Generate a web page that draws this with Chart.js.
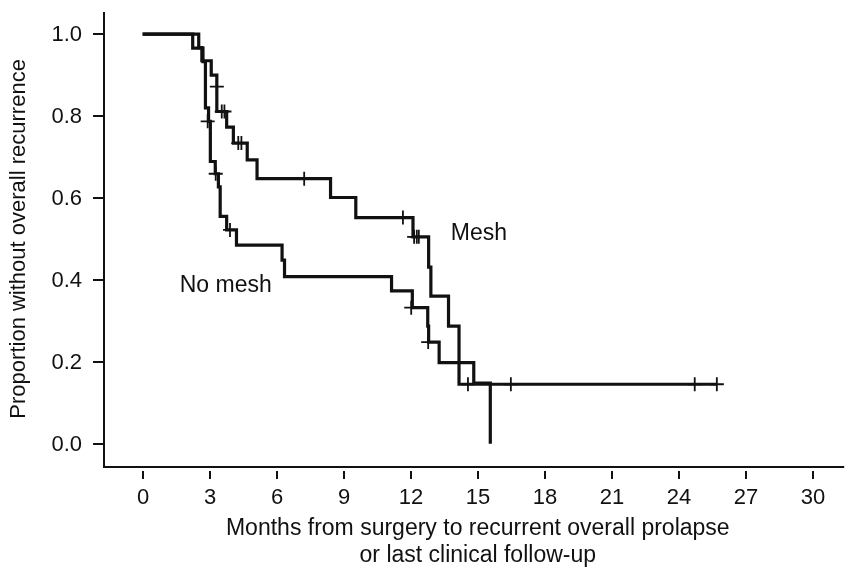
<!DOCTYPE html>
<html>
<head>
<meta charset="utf-8">
<script src="https://cdn.jsdelivr.net/npm/chart.js"></script>
<style>
  html, body { margin: 0; padding: 0; background: #fff; }
  canvas { display: block; }
</style>
</head>
<body>
<canvas id="kmChart" width="853" height="570"></canvas>
<script>
// Kaplan-Meier steps: [months, proportion] (value drops to S at t)
const meshSteps = [
  [0, 1.0], [2.51, 0.967], [2.65, 0.935], [3.07, 0.90], [3.32, 0.811],
  [3.76, 0.773], [4.06, 0.734], [4.68, 0.693], [5.12, 0.647], [8.41, 0.601],
  [9.54, 0.552], [12.1, 0.505], [12.8, 0.431], [12.9, 0.36], [13.69, 0.287],
  [14.16, 0.145], [25.7, 0.145]
];
const noMeshSteps = [
  [0, 1.0], [2.24, 0.966], [2.7, 0.933], [2.81, 0.82], [2.95, 0.787],
  [3.03, 0.689], [3.25, 0.659], [3.39, 0.627], [3.47, 0.555], [3.76, 0.522],
  [4.2, 0.485], [6.24, 0.448], [6.35, 0.408], [11.14, 0.373], [12.07, 0.332],
  [12.76, 0.287], [12.8, 0.248], [13.27, 0.198], [14.82, 0.148], [15.56, 0.0]
];

// censored observations (+ marks)
const meshCensored = [
  [3.32, 0.872], [3.54, 0.811], [3.66, 0.811], [4.28, 0.734], [4.42, 0.734],
  [7.23, 0.647], [11.65, 0.552], [12.15, 0.505], [12.27, 0.505], [12.36, 0.505],
  [14.56, 0.145], [16.48, 0.145], [24.71, 0.145], [25.7, 0.145]
];
const noMeshCensored = [
  [2.91, 0.787], [3.27, 0.659], [3.91, 0.522], [12.02, 0.332], [12.78, 0.248]
];

const xTicks = [0, 3, 6, 9, 12, 15, 18, 21, 24, 27, 30];
const xTickLabels = ["0", "3", "6", "9", "12", "15", "18", "21", "24", "27", "30"];
const yTicks = [0, 0.2, 0.4, 0.6, 0.8, 1.0];
const yTickLabels = ["0.0", "0.2", "0.4", "0.6", "0.8", "1.0"];

const seriesLabels = [
  { text: "Mesh", x: 15.05, y: 0.512 },
  { text: "No mesh", x: 3.72, y: 0.385 }
];

const xTitle = ["Months from surgery to recurrent overall prolapse", "or last clinical follow-up"];
const yTitle = "Proportion without overall recurrence";

const toPts = (arr) => arr.map(([x, y]) => ({ x, y }));
const INK = "#111";
const FONT = '"Liberation Sans", Arial, sans-serif';

// axes, ticks, titles drawn from the chart's scales
const axesPlugin = {
  id: "kmAxes",
  afterDraw: (chart) => {
    const { ctx, chartArea, scales: { x, y } } = chart;
    ctx.save();
    ctx.strokeStyle = INK;
    ctx.fillStyle = INK;
    ctx.lineWidth = 2;

    // axis lines
    ctx.beginPath();
    ctx.moveTo(chartArea.left, chartArea.top);
    ctx.lineTo(chartArea.left, chartArea.bottom);
    ctx.lineTo(chartArea.right, chartArea.bottom);
    ctx.stroke();

    // y ticks
    ctx.font = "22px " + FONT;
    ctx.textAlign = "right";
    ctx.textBaseline = "middle";
    yTicks.forEach((v, i) => {
      const py = Math.round(y.getPixelForValue(v));
      ctx.beginPath();
      ctx.moveTo(chartArea.left - 11, py);
      ctx.lineTo(chartArea.left, py);
      ctx.stroke();
      ctx.fillText(yTickLabels[i], chartArea.left - 22, py + 1);
    });

    // x ticks (detached from the axis line)
    ctx.textAlign = "center";
    xTicks.forEach((v, i) => {
      const px = Math.round(x.getPixelForValue(v));
      ctx.beginPath();
      ctx.moveTo(px, chartArea.bottom + 4);
      ctx.lineTo(px, chartArea.bottom + 12);
      ctx.stroke();
      ctx.fillText(xTickLabels[i], px, chartArea.bottom + 31);
    });

    // x title
    const midX = (x.getPixelForValue(0) + x.getPixelForValue(30)) / 2;
    ctx.font = "23px " + FONT;
    ctx.fillText(xTitle[0], midX, chartArea.bottom + 62);
    ctx.fillText(xTitle[1], midX, chartArea.bottom + 89);

    // y title
    ctx.save();
    ctx.translate(19, (y.getPixelForValue(0) + y.getPixelForValue(1)) / 2);
    ctx.rotate(-Math.PI / 2);
    ctx.font = "22px " + FONT;
    ctx.fillText(yTitle, 0, 0);
    ctx.restore();

    // series labels
    ctx.font = "23px " + FONT;
    seriesLabels.forEach((l) => {
      ctx.fillText(l.text, x.getPixelForValue(l.x), y.getPixelForValue(l.y));
    });
    ctx.restore();
  },
};

const stepLine = (label, steps) => ({
  type: "line",
  label: label,
  data: toPts(steps),
  stepped: "before",
  borderColor: INK,
  borderWidth: 3.2,
  pointRadius: 0,
  fill: false,
  clip: false,
});

const censorMarks = (label, pts) => ({
  type: "scatter",
  label: label,
  data: toPts(pts),
  pointStyle: "cross",
  pointRadius: 7,
  pointBorderWidth: 1.8,
  pointBorderColor: INK,
  showLine: false,
  clip: false,
});

new Chart(document.getElementById("kmChart"), {
  type: "scatter",
  data: {
    datasets: [
      stepLine("Mesh", meshSteps),
      stepLine("No mesh", noMeshSteps),
      censorMarks("Mesh censored", meshCensored),
      censorMarks("No mesh censored", noMeshCensored),
    ],
  },
  plugins: [axesPlugin],
  options: {
    responsive: false,
    animation: false,
    events: [],
    layout: { padding: { left: 104, right: 0, top: 12, bottom: 103 } },
    plugins: { legend: { display: false }, tooltip: { enabled: false } },
    scales: {
      x: { type: "linear", min: -1.73, max: 31.4, display: false },
      y: { type: "linear", min: -0.057, max: 1.054, display: false },
    },
  },
});
</script>
</body>
</html>
